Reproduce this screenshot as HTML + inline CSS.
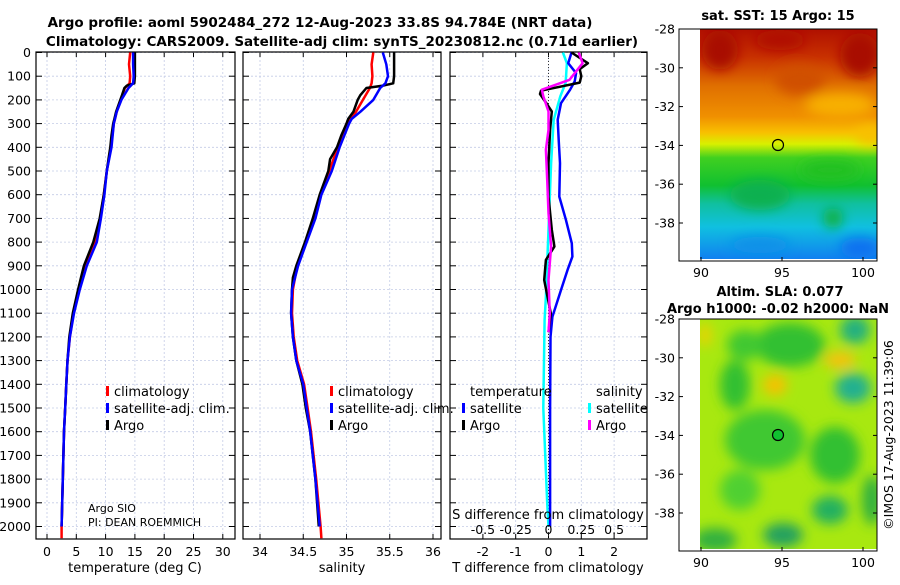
<!DOCTYPE html>
<html><head><meta charset="utf-8">
<style>
body{margin:0;background:#fff;width:900px;height:580px;overflow:hidden;font-family:"Liberation Sans","DejaVu Sans",sans-serif;}
svg text{font-family:"DejaVu Sans","Liberation Sans",sans-serif;}
</style></head>
<body>
<svg id="c" width="900" height="580" xmlns="http://www.w3.org/2000/svg">
<defs>
<filter id="blur6"><feGaussianBlur stdDeviation="6"/></filter>
<filter id="blur3"><feGaussianBlur stdDeviation="3"/></filter>
<clipPath id="clipSST"><rect x="700" y="29" width="177" height="230"/></clipPath>
<clipPath id="clipSLA"><rect x="700" y="319" width="177" height="230"/></clipPath>
<linearGradient id="sstGrad" x1="0" y1="0" x2="0" y2="1">
<stop offset="0" stop-color="#b01000"/><stop offset="0.12" stop-color="#c83000"/>
<stop offset="0.25" stop-color="#e07000"/><stop offset="0.38" stop-color="#f09000"/>
<stop offset="0.45" stop-color="#f8c000"/><stop offset="0.5" stop-color="#d8f000"/>
<stop offset="0.56" stop-color="#40d020"/><stop offset="0.68" stop-color="#10c030"/>
<stop offset="0.76" stop-color="#10c0a0"/><stop offset="0.86" stop-color="#10c0e0"/>
<stop offset="1" stop-color="#1080f0"/></linearGradient>
</defs>
<g id="titles">
<text x="320" y="27" text-anchor="middle" font-size="13.5" font-weight="bold">Argo profile: aoml 5902484_272 12-Aug-2023 33.8S 94.784E (NRT data)</text>
<text x="342" y="46" text-anchor="middle" font-size="13.5" font-weight="bold">Climatology: CARS2009. Satellite-adj clim: synTS_20230812.nc (0.71d earlier)</text>
</g>
<g id="panels"></g>
<g id="maps">
<g clip-path="url(#clipSST)">
<rect x="700" y="29" width="177" height="230" fill="url(#sstGrad)"/>
<g filter="url(#blur6)">
<ellipse cx="720" cy="50" rx="18" ry="20" fill="#a80800"/>
<ellipse cx="860" cy="55" rx="20" ry="22" fill="#a80800"/>
<ellipse cx="780" cy="40" rx="25" ry="10" fill="#b01000"/>
<ellipse cx="800" cy="80" rx="25" ry="15" fill="#d05000"/>
<ellipse cx="840" cy="105" rx="35" ry="12" fill="#f8b000"/>
<ellipse cx="870" cy="135" rx="15" ry="10" fill="#f8c000"/>
<ellipse cx="760" cy="195" rx="30" ry="15" fill="#10b050"/>
<ellipse cx="830" cy="170" rx="30" ry="10" fill="#20c020"/>
<ellipse cx="833" cy="218" rx="10" ry="10" fill="#10b040"/>
<ellipse cx="860" cy="248" rx="20" ry="10" fill="#1070f0"/>
<ellipse cx="760" cy="245" rx="30" ry="8" fill="#1090e8"/>
</g>
<circle cx="778" cy="145" r="5.5" fill="none" stroke="#000" stroke-width="1.2"/>
</g>
<rect x="679" y="29" width="198" height="232" fill="none" stroke="#000"/>
<text x="778" y="20" text-anchor="middle" font-size="13" font-weight="bold">sat. SST: 15 Argo: 15</text>
<g clip-path="url(#clipSLA)">
<rect x="700" y="319" width="177" height="230" fill="#a8e810"/>
<g filter="url(#blur6)">
<ellipse cx="790" cy="345" rx="35" ry="22" fill="#30c030"/>
<ellipse cx="745" cy="345" rx="18" ry="15" fill="#40c830"/>
<ellipse cx="735" cy="385" rx="15" ry="25" fill="#30c030"/>
<ellipse cx="855" cy="330" rx="15" ry="14" fill="#20b080"/>
<ellipse cx="853" cy="388" rx="18" ry="15" fill="#20b090"/>
<ellipse cx="765" cy="440" rx="40" ry="30" fill="#40c830"/>
<ellipse cx="740" cy="490" rx="20" ry="20" fill="#50d030"/>
<ellipse cx="835" cy="455" rx="25" ry="28" fill="#30c030"/>
<ellipse cx="830" cy="510" rx="18" ry="14" fill="#20b060"/>
<ellipse cx="783" cy="535" rx="20" ry="12" fill="#20a060"/>
<ellipse cx="715" cy="540" rx="22" ry="12" fill="#30b040"/>
<ellipse cx="872" cy="500" rx="10" ry="25" fill="#30b040"/>
<ellipse cx="775" cy="385" rx="12" ry="10" fill="#f8c000"/>
<ellipse cx="840" cy="360" rx="16" ry="8" fill="#f8c010"/>
<ellipse cx="705" cy="335" rx="6" ry="12" fill="#f0d000"/>
</g>
<circle cx="778" cy="435" r="5.5" fill="#10c030" stroke="#000" stroke-width="1.2"/>
</g>
<rect x="679" y="319" width="198" height="232" fill="none" stroke="#000"/>
<text x="780" y="296" text-anchor="middle" font-size="13" font-weight="bold">Altim. SLA: 0.077</text>
<text x="778" y="313" text-anchor="middle" font-size="13" font-weight="bold">Argo h1000: -0.02 h2000: NaN</text>
<text transform="translate(893,435) rotate(-90)" text-anchor="middle" font-size="12.5">©IMOS 17-Aug-2023 11:39:06</text>
</g>
</svg>
<script>
// ---------- data ----------
const depthTicks = [0,100,200,300,400,500,600,700,800,900,1000,1100,1200,1300,1400,1500,1600,1700,1800,1900,2000];
const tTicks = [0,5,10,15,20,25,30];
const sTicks = [34,34.5,35,35.5,36];
const dTTicks = [-2,-1,0,1,2];
const dSTicks = [-0.5,-0.25,0,0.25,0.5];
const dSTickLabels = ["-0.5","-0.25","0","0.25","0.5"];
const latTicks = [-28,-30,-32,-34,-36,-38];
const lonTicks = [90,95,100];

const argoDepth = [0,50,100,130,140,150,180,200,250,280,300,350,400,450,500,600,700,800,900,950,1000,1100,1200,1300,1400,1500,1600,1800,2000];
const argoTemp  = [15.0,15.0,15.0,14.9,13.6,13.2,12.8,12.5,11.8,11.5,11.3,11.0,10.8,10.5,10.2,9.7,9.0,7.9,6.3,5.8,5.3,4.4,3.8,3.5,3.3,3.1,2.9,2.7,2.5];
const argoSal   = [35.55,35.55,35.55,35.54,35.42,35.23,35.16,35.13,35.08,35.02,35.00,34.94,34.89,34.81,34.79,34.69,34.61,34.52,34.42,34.38,34.37,34.36,34.38,34.42,34.49,34.53,34.58,34.64,34.68];

const climDepth = [0,50,100,130,150,200,250,300,400,500,600,700,800,900,1000,1100,1200,1300,1400,1500,1600,1800,2000,2050];
const climTemp  = [14.2,14.0,14.2,14.1,13.3,12.6,11.9,11.4,10.9,10.2,9.7,9.1,8.1,6.5,5.4,4.5,3.9,3.5,3.3,3.1,2.9,2.7,2.5,2.5];
const climSal   = [35.31,35.29,35.30,35.29,35.27,35.19,35.11,35.00,34.90,34.80,34.70,34.62,34.53,34.43,34.38,34.37,34.39,34.43,34.51,34.55,34.59,34.65,34.70,34.71];

const satDepth = [0,50,100,130,150,200,250,280,300,400,500,600,700,800,900,1000,1100,1200,1300,1400,1500,1600,1800,2000];
const satTemp  = [14.7,14.7,14.8,14.7,13.9,12.7,11.9,11.6,11.4,11.0,10.2,9.8,9.2,8.5,6.8,5.6,4.6,3.9,3.5,3.3,3.1,2.9,2.7,2.5];
const satSal   = [35.42,35.46,35.48,35.45,35.39,35.31,35.16,35.06,35.03,34.92,34.83,34.71,34.64,34.54,34.44,34.37,34.36,34.38,34.42,34.50,34.54,34.58,34.64,34.69];

const dTSatDepth = [0,45,87,122,157,214,284,369,467,608,706,805,861,918,1002,1115,1200,1500,2000];
const dTSat      = [0.7,0.6,0.84,0.8,0.66,0.38,0.28,0.31,0.35,0.33,0.53,0.71,0.73,0.58,0.38,0.12,0.06,0.05,0.05];
const dTArgoDepth = [0,45,70,100,127,161,175,213,249,326,467,608,748,819,875,960,1101,1180];
const dTArgo      = [0.7,1.2,0.95,1.0,0.95,-0.23,-0.26,-0.07,0.1,0.05,0.0,0.0,0.1,0.18,-0.08,-0.13,0.07,0.0];
const dSSatDepth = [0,45,129,185,284,467,748,1030,1129,1500,1900,2000];
const dSSat      = [0.11,0.14,0.13,0.09,0.04,0.02,0.0,-0.02,-0.03,-0.04,-0.01,0.0];
const dSArgoDepth = [0,45,115,157,185,249,326,410,537,678,819,960,1101,1180];
const dSArgo      = [0.23,0.26,0.16,-0.05,-0.04,0.0,0.0,-0.02,-0.01,0.0,0.02,0.0,0.01,0.0];

// ---------- axes ----------
const NS="http://www.w3.org/2000/svg";
const Y0=52.5, YTOP=52, YBOT=539;
function yD(d){return Y0 + d*0.237;}
function xT(t){return 47 + t*5.86;}
function xS(s){return 260 + (s-34)*86.5;}
function xdT(t){return 548.5 + t*32.8;}
function xdS(s){return 548.5 + s*131.2;}
function lonX(l){return 701 + (l-90)*16.2;}
function latY1(l){return 29 + (-28-l)*19.4;}
function latY2(l){return 319 + (-28-l)*19.4;}

const root=document.getElementById('panels');
function mk(tag,attrs,parent){const e=document.createElementNS(NS,tag);for(const k in attrs)e.setAttribute(k,attrs[k]);(parent||root).appendChild(e);return e;}
function txt(x,y,s,size,anchor,parent){const e=mk('text',{x:x,y:y,'font-size':size,'text-anchor':anchor||'start'},parent);e.textContent=s;return e;}

function panel(name,x0,x1,xticks,xf,labels){
  const g=mk('g',{});
  
  
  xticks.forEach(t=>{const x=xf(t);
    const l=mk('line',{x1:x,x2:x,y1:YTOP,y2:YBOT,stroke:'#c4cce6','stroke-width':0.8,'stroke-dasharray':'2,2'},g);
    
    
    mk('line',{x1:x,x2:x,y1:YBOT,y2:YBOT-5,stroke:'#000'},g);
    mk('line',{x1:x,x2:x,y1:YTOP,y2:YTOP+5,stroke:'#000'},g);
  });
  depthTicks.forEach(d=>{const y=yD(d);
    const l=mk('line',{x1:x0,x2:x1,y1:y,y2:y,stroke:'#c4cce6','stroke-width':0.8,'stroke-dasharray':'2,2'},g);
    
    
    mk('line',{x1:x0,x2:x0+6,y1:y,y2:y,stroke:'#000'},g);
    mk('line',{x1:x1-6,x2:x1,y1:y,y2:y,stroke:'#000'},g);
  });
  const f=mk('rect',{x:x0,y:YTOP,width:x1-x0,height:YBOT-YTOP,fill:'none',stroke:'#000','stroke-width':1.2},g);
  
  
  xticks.forEach((t,i)=>{const tl=txt(xf(t),556,labels?labels[i]:String(t),12.5,'middle',g);
    
    });
  return g;
}
function series(g,name,depths,vals,xf,color,w){
  const pts=depths.map((d,i)=>xf(vals[i]).toFixed(1)+','+yD(d).toFixed(1)).join(' ');
  const p=mk('polyline',{points:pts,fill:'none',stroke:color,'stroke-width':w||2.5,'stroke-linejoin':'round'},g);
  
  
}
function legendEntry(g,x,y,color,label){
  const m=mk('rect',{x:x,y:y-10,width:3,height:10,fill:color},g);
  
  
  const t=txt(x+8,y,label,13,'start',g);
  
  
}

// y tick labels
depthTicks.forEach(d=>{const t=txt(31,yD(d)+4.5,String(d),12.5,'end');
  
  });

// Temperature panel
const gT=panel('temperature',36,235,tTicks,xT);
series(gT,'temp-climatology-line',climDepth,climTemp,xT,'#f00');
series(gT,'temp-argo-line',argoDepth,argoTemp,xT,'#000');
series(gT,'temp-satellite-line',satDepth,satTemp,xT,'#00f');
const tt=txt(135,572,'temperature (deg C)',13,'middle',gT);


legendEntry(gT,106,396,'#f00','climatology');
legendEntry(gT,106,413,'#00f','satellite-adj. clim.');
legendEntry(gT,106,430,'#000','Argo');
const a1=txt(88,512,'Argo SIO',11,'start',gT);


const a2=txt(88,526,'PI: DEAN ROEMMICH',11,'start',gT);



// Salinity panel
const gS=panel('salinity',243,441,sTicks,xS,["34","34.5","35","35.5","36"]);
series(gS,'sal-climatology-line',climDepth,climSal,xS,'#f00');
series(gS,'sal-argo-line',argoDepth,argoSal,xS,'#000');
series(gS,'sal-satellite-line',satDepth,satSal,xS,'#00f');
const st=txt(342,572,'salinity',13,'middle',gS);


legendEntry(gS,330,396,'#f00','climatology');
legendEntry(gS,330,413,'#00f','satellite-adj. clim.');
legendEntry(gS,330,430,'#000','Argo');

// Difference panel
const gD=panel('difference',450,647,dTTicks,xdT);
const zl=mk('line',{x1:xdT(0),x2:xdT(0),y1:YTOP,y2:YBOT,stroke:'#333','stroke-width':1,'stroke-dasharray':'1,2'},gD);


series(gD,'dS-satellite-line',dSSatDepth,dSSat,xdS,'#0ff');
series(gD,'dT-satellite-line',dTSatDepth,dTSat,xdT,'#00f');
series(gD,'dT-argo-line',dTArgoDepth,dTArgo,xdT,'#000');
series(gD,'dS-argo-line',dSArgoDepth,dSArgo,xdS,'#f0f');
const dt=txt(548,572,'T difference from climatology',13,'middle',gD);


const ds=txt(548,519,'S difference from climatology',13,'middle',gD);


dSTicks.forEach((s,i)=>{const l=txt(xdS(s),534,dSTickLabels[i],12.5,'middle',gD);
  
  });
const lt=txt(470,396,'temperature',13,'start',gD);


const ls=txt(596,396,'salinity',13,'start',gD);


legendEntry(gD,462,413,'#00f','satellite');
legendEntry(gD,462,430,'#000','Argo');
legendEntry(gD,588,413,'#0ff','satellite');
legendEntry(gD,588,430,'#f0f','Argo');

// Map axes
const mapsG=document.getElementById('maps');
[[latY1,261],[latY2,551]].forEach(([fy,yb])=>{
  latTicks.forEach(l=>{const y=fy(l);
    mk('line',{x1:679,x2:683,y1:y,y2:y,stroke:'#000'},mapsG);
    mk('line',{x1:873,x2:877,y1:y,y2:y,stroke:'#000'},mapsG);
    const t=txt(675,y+4.5,String(l),12.5,'end',mapsG);
    
    });
  lonTicks.forEach(l=>{const x=lonX(l);
    mk('line',{x1:x,x2:x,y1:yb,y2:yb-4,stroke:'#000'},mapsG);
    const t=txt(x,yb+16,String(l),12.5,'middle',mapsG);
    
    });
});
</script>
</body></html>
